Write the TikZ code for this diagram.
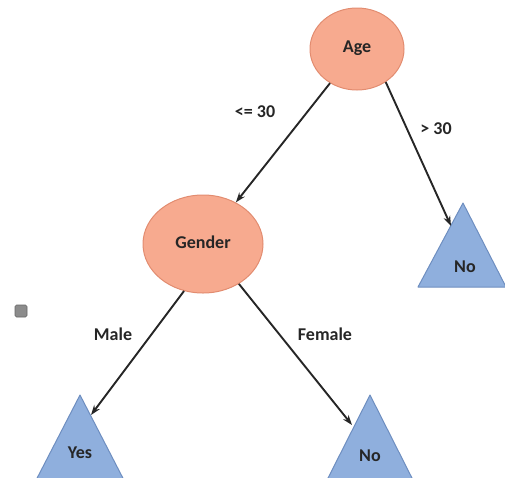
\documentclass[tikz,border=0pt]{standalone}
\usepackage{fontspec}
\setmainfont{Carlito}
\usetikzlibrary{shapes.geometric,arrows.meta}
\definecolor{salmon}{RGB}{247,170,143}
\definecolor{salmonline}{RGB}{226,140,112}
\definecolor{triblue}{RGB}{143,175,221}
\definecolor{trilinee}{RGB}{110,142,192}
\begin{document}
\begin{tikzpicture}[x=1pt,y=-1pt,
  every node/.style={font=\fontsize{18}{20}\selectfont\bfseries, text=black!85},
  decision/.style={ellipse, fill=salmon, draw=salmonline, line width=1pt, inner sep=0pt},
  leaf/.style={fill=triblue, draw=trilinee, line width=1pt, line join=round},
  edge/.style={line width=1.9pt, draw=black!85, -{Stealth[length=10pt,width=7pt]}},
  elabel/.style={inner sep=1pt}]
\useasboundingbox (0,0) rectangle (505,477);
% decision nodes
\node[decision, minimum width=94pt, minimum height=82pt] (age) at (357,49) {\raisebox{4pt}{Age}};
\node[decision, minimum width=120pt, minimum height=98pt] (gender) at (203,244) {\raisebox{3pt}{Gender}};
% leaves (triangles, cut off at the bottom edge)
\draw[leaf] (463,203) -- (506,287) -- (418,287) -- cycle;
\draw[leaf] (80,395) -- (127,486) -- (33,486) -- cycle;
\draw[leaf] (370,395) -- (416,486) -- (324,486) -- cycle;
\node (noR) at (465,267) {No};
\node (yes) at (80,453) {Yes};
\node (noB) at (370,456) {No};
% arrow tips on triangle edges
\coordinate (noRt) at (451,226);
\coordinate (yest) at (91,415);
\coordinate (noBt) at (352,425);
% connectors
\draw[edge] (age) -- (gender);
\draw[edge] (age.-49) -- (noRt);
\draw[edge] (gender.-112) -- (yest);
\draw[edge] (gender.-48) -- (noBt);
% edge labels
\node[elabel] (l1) at (255,112) {<= 30};
\node[elabel] (l2) at (436,129) {> 30};
\node[elabel] (l3) at (113,334) {Male};
\node[elabel] (l4) at (325,334) {Female};
% small grey marker
\node[draw=black!60, fill=black!45, rounded corners=1.5pt, minimum size=12pt, inner sep=0pt, line width=0.6pt] (dot) at (21,311) {};
\end{tikzpicture}
\end{document}
